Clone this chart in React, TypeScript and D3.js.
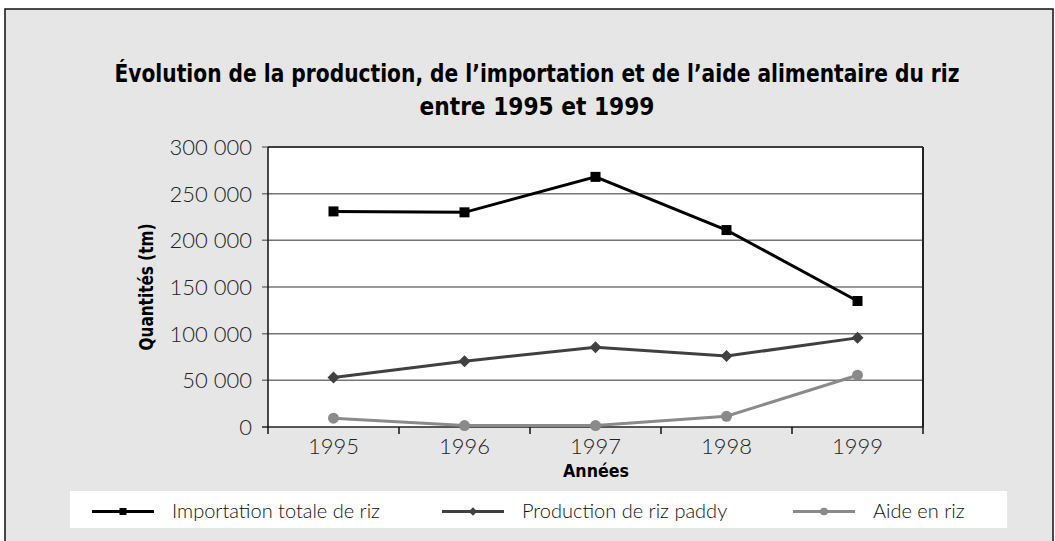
import React from 'react';
import * as d3 from 'd3';

const years = ['1995', '1996', '1997', '1998', '1999'];
const importation = [231000, 230000, 268000, 211000, 135000];
const production = [53000, 70500, 85500, 76000, 95500];
const aide = [9500, 1500, 1500, 11500, 55500];
const yTicks = [0, 50000, 100000, 150000, 200000, 250000, 300000];
const seriesNames = ['Importation totale de riz', 'Production de riz paddy', 'Aide en riz'];

const W = 1055;
const H = 541;
const plot = { left: 268, right: 923, top: 147, bottom: 427 };
const labelFont = 'Lato, "Open Sans", sans-serif';
const titleFont = '"Liberation Sans Narrow", "DejaVu Sans Condensed", sans-serif';

const fmt = (v: number) => d3.format(',')(v).replace(/,/g, ' ');

const Marker: React.FC<{ kind: string; x: number; y: number; color: string; s?: number }> = ({ kind, x, y, color, s = 1 }) => {
  if (kind === 'square') return <rect x={x - 5 * s} y={y - 5 * s} width={10 * s} height={10 * s} fill={color} />;
  if (kind === 'diamond') {
    const r = 6 * s;
    return <path d={`M${x},${y - r}L${x + r},${y}L${x},${y + r}L${x - r},${y}Z`} fill={color} />;
  }
  return <circle cx={x} cy={y} r={5.5 * s} fill={color} />;
};

export default function App() {
  const x = d3.scaleBand<string>().domain(years).range([plot.left, plot.right]);
  const y = d3.scaleLinear().domain([0, 300000]).range([plot.bottom, plot.top]);
  const cx = (d: string) => (x(d) as number) + x.bandwidth() / 2;

  const series = [
    { name: seriesNames[0], values: importation, color: '#000000', marker: 'square' },
    { name: seriesNames[1], values: production, color: '#404040', marker: 'diamond' },
    { name: seriesNames[2], values: aide, color: '#8a8a8a', marker: 'circle' },
  ];

  const line = d3.line<number>().x((_, i) => cx(years[i])).y(v => y(v));

  const legendX = [92, 442, 793];

  return (
    <svg width={W} height={H} style={{ position: 'absolute', left: 0, top: 0 }}>
      <rect x={0} y={0} width={W} height={H} fill="#ffffff" />
      <rect x={5} y={9} width={1048} height={H} fill="#e6e6e6" stroke="#111" strokeWidth={1.5} />

      <text x={537} y={82} textAnchor="middle" fontFamily={titleFont} fontWeight="bold" fontSize={24} fill="#000"
        textLength={845} lengthAdjust="spacingAndGlyphs">
        Évolution de la production, de l’importation et de l’aide alimentaire du riz
      </text>
      <text x={537} y={115} textAnchor="middle" fontFamily={titleFont} fontWeight="bold" fontSize={24} fill="#000"
        textLength={235} lengthAdjust="spacingAndGlyphs">
        entre 1995 et 1999
      </text>

      <rect x={plot.left} y={plot.top} width={plot.right - plot.left} height={plot.bottom - plot.top} fill="#fff" />

      {yTicks.map(t => (
        <g key={t}>
          <line x1={plot.left - 6} x2={plot.right} y1={y(t)} y2={y(t)} stroke={t === 0 ? '#222' : '#777'} strokeWidth={1.5} />
          <text x={252} y={y(t) + 8} textAnchor="end" fontFamily={labelFont} fontWeight={300} fontSize={22} fill="#222">{fmt(t)}</text>
        </g>
      ))}
      <line x1={plot.right} x2={plot.right} y1={plot.top} y2={plot.bottom} stroke="#222" strokeWidth={2} />
      <line x1={plot.left} x2={plot.right} y1={plot.top} y2={plot.top} stroke="#222" strokeWidth={1.5} />
      <line x1={plot.left} x2={plot.left} y1={plot.top} y2={plot.bottom + 7} stroke="#111" strokeWidth={1.5} />

      {years.map(yr => (
        <g key={yr}>
          <line x1={(x(yr) as number) + x.bandwidth()} x2={(x(yr) as number) + x.bandwidth()} y1={plot.bottom} y2={plot.bottom + 7} stroke="#111" strokeWidth={1.5} />
          <text x={cx(yr)} y={454} textAnchor="middle" fontFamily={labelFont} fontWeight={300} fontSize={22} fill="#222">{yr}</text>
        </g>
      ))}

      <text x={596} y={477} textAnchor="middle" fontFamily={titleFont} fontWeight="bold" fontSize={18} fill="#000"
        textLength={66} lengthAdjust="spacingAndGlyphs">Années</text>
      <text transform={`translate(153,${(plot.top + plot.bottom) / 2}) rotate(-90)`} textAnchor="middle" fontFamily={titleFont} fontWeight="bold" fontSize={19} fill="#000"
        textLength={127} lengthAdjust="spacingAndGlyphs">Quantités (tm)</text>

      {series.map(s => (
        <g key={s.name}>
          <path d={line(s.values) as string} fill="none" stroke={s.color} strokeWidth={3} />
          {s.values.map((v, i) => (
            <Marker key={i} kind={s.marker} x={cx(years[i])} y={y(v)} color={s.color} />
          ))}
        </g>
      ))}

      <rect x={70} y={491} width={937} height={37} fill="#fff" />
      {series.map((s, i) => (
        <g key={s.name}>
          <line x1={legendX[i]} x2={legendX[i] + 62} y1={511.5} y2={511.5} stroke={s.color} strokeWidth={3} />
          <Marker kind={s.marker} x={legendX[i] + 31} y={511.5} color={s.color} s={0.7} />
          <text x={legendX[i] + 80} y={518} fontFamily={labelFont} fontWeight={300} fontSize={20} fill="#111">{s.name}</text>
        </g>
      ))}
    </svg>
  );
}
